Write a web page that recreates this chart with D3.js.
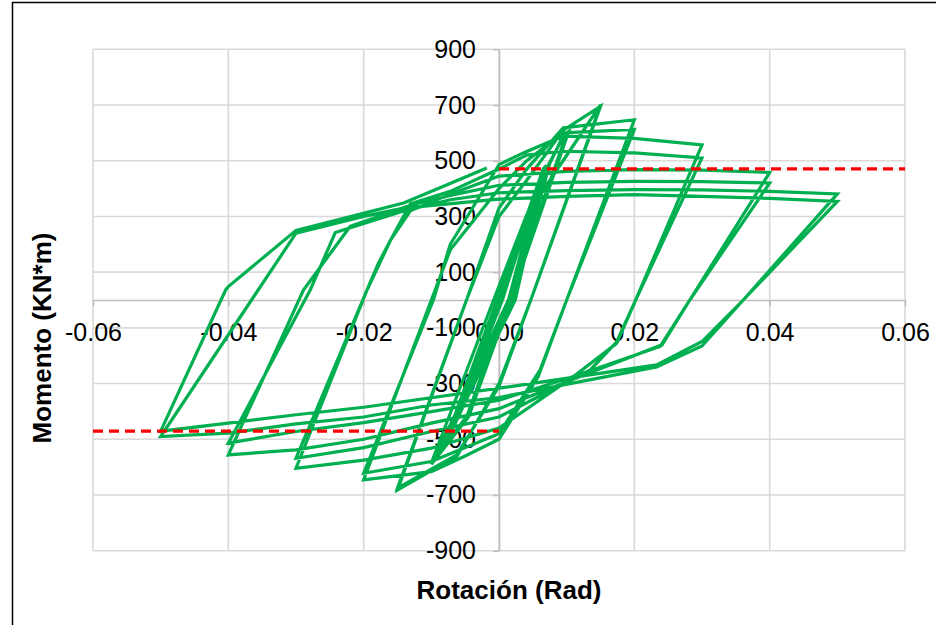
<!DOCTYPE html>
<html>
<head>
<meta charset="utf-8">
<script src="https://cdnjs.cloudflare.com/ajax/libs/d3/7.8.5/d3.min.js"></script>
<style>
  html, body { margin: 0; padding: 0; background: #fff; }
  svg { display: block; }
  text { font-family: "Liberation Sans", Arial, sans-serif; fill: #000; }
</style>
</head>
<body>
<svg id="chart" width="936" height="625"></svg>
<script>
// Rotation (rad) and moment (kN*m) of the cyclic test, in loading order
const rotacion = [
  0,
  // 0.00375 cycles
  0.0043, 0.0003, -0.0044, 0.0016, 0.0046, 0.0000, -0.0046, 0.0019,
  0.0044, 0.0005, -0.0043, 0.0014, 0.0047, 0.0002, -0.0047, 0.0021,
  // 0.005 cycles
  0.0055, 0.0001, -0.0060, 0.0018, 0.0058, -0.0002, -0.0062, 0.0022,
  0.0054, 0.0004, -0.0058, 0.0016, 0.0057, 0.0000, -0.0061, 0.0020,
  // 0.0075 cycles
  0.0068, -0.0001, -0.0080, 0.0022, 0.0070, 0.0002, -0.0078, 0.0018,
  0.0066, -0.0003, -0.0082, 0.0024, 0.0069, 0.0001, -0.0079,
  // 0.01 cycles
  0.0020, 0.0075, 0.0095, 0.0103, 0.0017, -0.0045, -0.01,
  0.0016, 0.0072, 0.0095, 0.01, 0.0014, -0.0047, -0.01,
  // 0.015 cycles
  -0.0008, 0.0041, 0.015,
  0.0047, 0.0, -0.0062, -0.015,
  -0.0048, 0.0, 0.0041, 0.0095, 0.015,
  0.0047, 0.0, -0.0062, -0.015,
  // 0.02 cycles
  -0.0048, 0.0, 0.0041, 0.0095, 0.02,
  0.0100, 0.0058, 0.0, -0.005, -0.01, -0.02,
  -0.0100, -0.0072, 0.0, 0.0041, 0.0095, 0.02,
  0.0100, 0.0061, 0.0, -0.01, -0.02,
  // 0.03 cycles
  -0.0097, -0.0072, 0.0, 0.0036, 0.0094, 0.02, 0.03,
  0.0202, 0.0174, 0.011, 0.0, -0.01, -0.02, -0.03,
  -0.0195, -0.0178, -0.016, -0.0131, -0.0072, 0.0, 0.0041, 0.0094, 0.02, 0.03,
  0.0202, 0.0174, 0.0135, 0.0, -0.01, -0.02, -0.03,
  // 0.04 cycles
  -0.0195, -0.016, -0.0131, -0.0072, 0.0, 0.01, 0.02, 0.03, 0.04,
  0.0282, 0.0241, 0.0135, 0.0, -0.01, -0.02, -0.03, -0.04,
  -0.0289, -0.022, -0.0131, -0.0072, 0.0, 0.01, 0.02, 0.03, 0.04,
  0.0282, 0.0238, 0.011, 0.0, -0.01, -0.02, -0.03, -0.04,
  // 0.05 cycles
  -0.0279, -0.0242, -0.0141, -0.0072, 0.0, 0.01, 0.02, 0.03, 0.04, 0.05,
  0.0361, 0.030, 0.0233, 0.0, -0.01, -0.02, -0.03, -0.04, -0.05,
  -0.03, -0.02, -0.0141, 0.0, 0.01, 0.02, 0.03, 0.04, 0.05,
  0.0361, 0.030, 0.0233, 0.0017, -0.02, -0.03, -0.04, -0.05,
  -0.0404, -0.04, -0.03, -0.0141, -0.0082, -0.0018
];
const momento = [
  0,
  // 0.00375 cycles
  295, 0, -300, 0, 300, 0, -305, 0,
  298, 0, -298, 0, 302, 0, -303, 0,
  // 0.005 cycles
  385, 0, -395, 0, 390, 0, -400, 0,
  383, 0, -392, 0, 388, 0, -398, 0,
  // 0.0075 cycles
  480, 0, -520, 0, 485, 0, -515, 0,
  475, 0, -525, 0, 482, 0, -518,
  // 0.01 cycles
  0, 490, 590, 605, 0, -420, -590,
  0, 480, 585, 598, 0, -415, -585,
  // 0.015 cycles
  0, 306, 700,
  0, -300, -560, -682,
  0, 300, 430, 610, 695,
  0, -310, -555, -675,
  // 0.02 cycles
  0, 330, 470, 618, 647,
  0, -275, -500, -560, -616, -646,
  0, 180, 400, 500, 600, 612,
  0, -250, -480, -580, -622,
  // 0.03 cycles
  0, 200, 486, 528, 588, 580, 557,
  0, -155, -275, -460, -532, -575, -604,
  36, 133, 216, 345, 390, 470, 520, 534, 528, 510,
  0, -150, -251, -420, -472, -530, -568,
  // 0.04 cycles
  36, 216, 320, 380, 445, 462, 468, 466, 458,
  0, -161, -260, -390, -442, -500, -538, -556,
  36, 264, 340, 375, 412, 422, 426, 425, 420,
  0, -167, -275, -360, -401, -440, -472, -514,
  // 0.05 cycles
  36, 242, 320, 360, 385, 393, 396, 395, 390, 381,
  0, -165, -240, -350, -377, -420, -445, -478, -490,
  240, 300, 330, 362, 372, 378, 372, 365, 354,
  0, -149, -233, -311, -385, -412, -442, -471,
  36, 48, 250, 348, 408, 474
];
// Plastic moment reference lines (kN*m)
const momentoPlastico = 471;

// Axis ticks
const xTicks = [-0.06, -0.04, -0.02, 0, 0.02, 0.04, 0.06];
const yTicks = [900, 700, 500, 300, 100, -100, -300, -500, -700, -900];

const svg = d3.select("#chart");

// Outer chart frame
svg.append("path")
  .attr("d", "M12.5,640 L12.5,2.5 L950,2.5")
  .attr("fill", "none").attr("stroke", "#000").attr("stroke-width", 1.5);

const x = d3.scaleLinear().domain([-0.06, 0.06]).range([93, 905]);
const y = d3.scaleLinear().domain([-900, 900]).range([550.7, 49.3]);

// Gridlines
const grid = svg.append("g").attr("stroke", "#d9d9d9").attr("stroke-width", 1.6);
grid.selectAll("line.v").data(xTicks).join("line")
  .attr("x1", d => x(d)).attr("x2", d => x(d))
  .attr("y1", y(900)).attr("y2", y(-900));
grid.selectAll("line.h").data(yTicks).join("line")
  .attr("x1", x(-0.06)).attr("x2", x(0.06))
  .attr("y1", d => y(d)).attr("y2", d => y(d));

// Axes crossing at the origin
const xAxis = svg.append("g")
  .attr("transform", `translate(0,${y(0)})`)
  .call(d3.axisBottom(x).tickValues(xTicks)
    .tickSize(6).tickPadding(17).tickSizeOuter(0));
const yAxis = svg.append("g")
  .attr("transform", `translate(${x(0)},0)`)
  .call(d3.axisLeft(y).tickValues(yTicks)
    .tickSize(6).tickPadding(17).tickSizeOuter(0));
[xAxis, yAxis].forEach(g => {
  g.select(".domain").attr("stroke", "#bfbfbf").attr("stroke-width", 1.6);
  g.selectAll(".tick line").attr("stroke", "#bfbfbf").attr("stroke-width", 1.6);
  g.selectAll(".tick text")
    .attr("fill", "#000")
    .style("font-family", '"Liberation Sans", Arial, sans-serif')
    .style("font-size", "25px");
});
xAxis.selectAll(".tick text").text(d => d3.format(".2f")(d).replace("\u2212", "-"));
yAxis.selectAll(".tick text").text(d => String(d));

// Hysteresis curve
const puntos = rotacion.map((r, i) => [r, momento[i]]);
svg.append("path")
  .datum(puntos)
  .attr("fill", "none")
  .attr("stroke", "#00b050")
  .attr("stroke-width", 3.2)
  .attr("stroke-linejoin", "miter")
  .attr("d", d3.line().x(d => x(d[0])).y(d => y(d[1])));

// Plastic moment lines
const refLines = [
  [[0, momentoPlastico], [0.06, momentoPlastico]],
  [[-0.06, -momentoPlastico], [0, -momentoPlastico]]
];
svg.selectAll("path.ref").data(refLines).join("path")
  .attr("class", "ref")
  .attr("fill", "none")
  .attr("stroke", "#ff0000")
  .attr("stroke-width", 3.2)
  .attr("stroke-dasharray", "10,6")
  .attr("d", d3.line().x(d => x(d[0])).y(d => y(d[1])));

// Axis titles
svg.append("text")
  .attr("x", 509).attr("y", 599)
  .attr("text-anchor", "middle")
  .style("font-size", "26px").style("font-weight", "bold")
  .text("Rotación (Rad)");
svg.append("text")
  .attr("transform", "translate(51,338) rotate(-90)")
  .attr("text-anchor", "middle")
  .style("font-size", "26px").style("font-weight", "bold")
  .text("Momento (KN*m)");
</script>
</body>
</html>
